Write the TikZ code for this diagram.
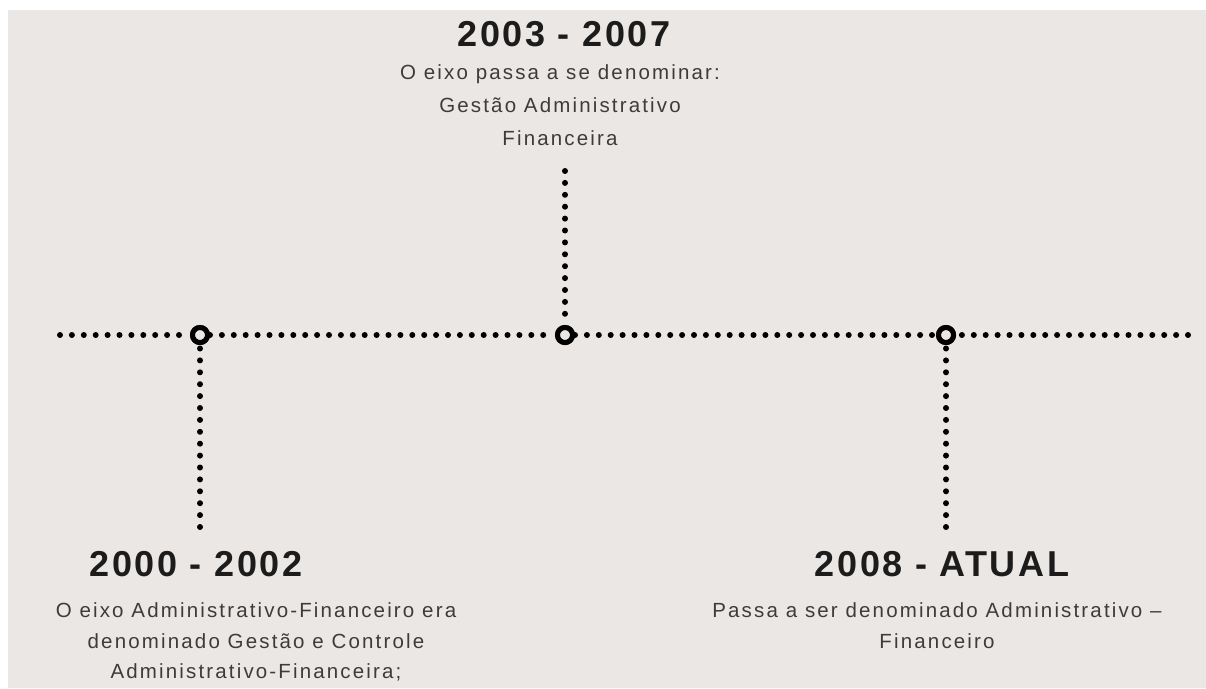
\documentclass[tikz,border=0pt]{standalone}
\usepackage{fontspec}
\setmainfont{Liberation Sans}
\definecolor{bg}{HTML}{EBE7E4}
\definecolor{headc}{HTML}{1C1C1C}
\definecolor{subc}{HTML}{3C3C3C}
\begin{document}
\begin{tikzpicture}[x=1pt,y=-1pt,
  head/.style={anchor=base, inner sep=0pt, text=headc, font=\fontsize{36}{36}\selectfont\bfseries\addfontfeatures{LetterSpace=7}},
  sub/.style={anchor=base, inner sep=0pt, text=subc, font=\fontsize{20.5}{20.5}\selectfont\addfontfeatures{LetterSpace=10.5}},
  dotline/.style={draw=black, line width=6pt, line cap=round, dash pattern=on 0pt off 11.9pt},
  ring/.style={circle, draw=black, line width=5pt, fill=bg, minimum size=15pt, inner sep=0pt}]
\useasboundingbox (0,0) rectangle (1206,688);
\fill[white] (0,0) rectangle (1206,688);
\fill[bg] (8,10) rectangle (1206,688);
% timeline
\coordinate (L) at (60,335);
\coordinate (R) at (1188,335);
\coordinate (topend) at (565,171);
\coordinate (lend) at (200,527);
\coordinate (rend) at (946,527);
\path (200,335) node[ring] (c1) {} (565,335) node[ring] (c2) {} (946,335) node[ring] (c3) {};
\draw[dotline] (L) -- (c1);
\draw[dotline] (c1) -- (c2);
\draw[dotline] (c2) -- (c3);
\draw[dotline] (R) -- (c3);
\draw[dotline] (lend) -- (c1);
\draw[dotline] (topend) -- (c2);
\draw[dotline] (rend) -- (c3);
\path (200,335) node[ring] {} (565,335) node[ring] {} (946,335) node[ring] {};
% texts
\node[head] (h2) at (564,46) {2003 - 2007};
\node[sub] (t2a) at (560,79) {O eixo passa a se denominar:};
\node[sub] (t2b) at (560,112) {Gestão Administrativo};
\node[sub] (t2c) at (560,145) {Financeira};
\node[head] (h1) at (196,576) {2000 - 2002};
\node[sub] (t1a) at (256,617) {O eixo Administrativo-Financeiro era};
\node[sub] (t1b) at (256,648) {denominado Gestão e Controle};
\node[sub] (t1c) at (256,678) {Administrativo-Financeira;};
\node[head] (h3) at (942,576) {2008 - ATUAL};
\node[sub] (t3a) at (937,617) {Passa a ser denominado Administrativo –};
\node[sub] (t3b) at (937,648) {Financeiro};
\end{tikzpicture}
\end{document}
